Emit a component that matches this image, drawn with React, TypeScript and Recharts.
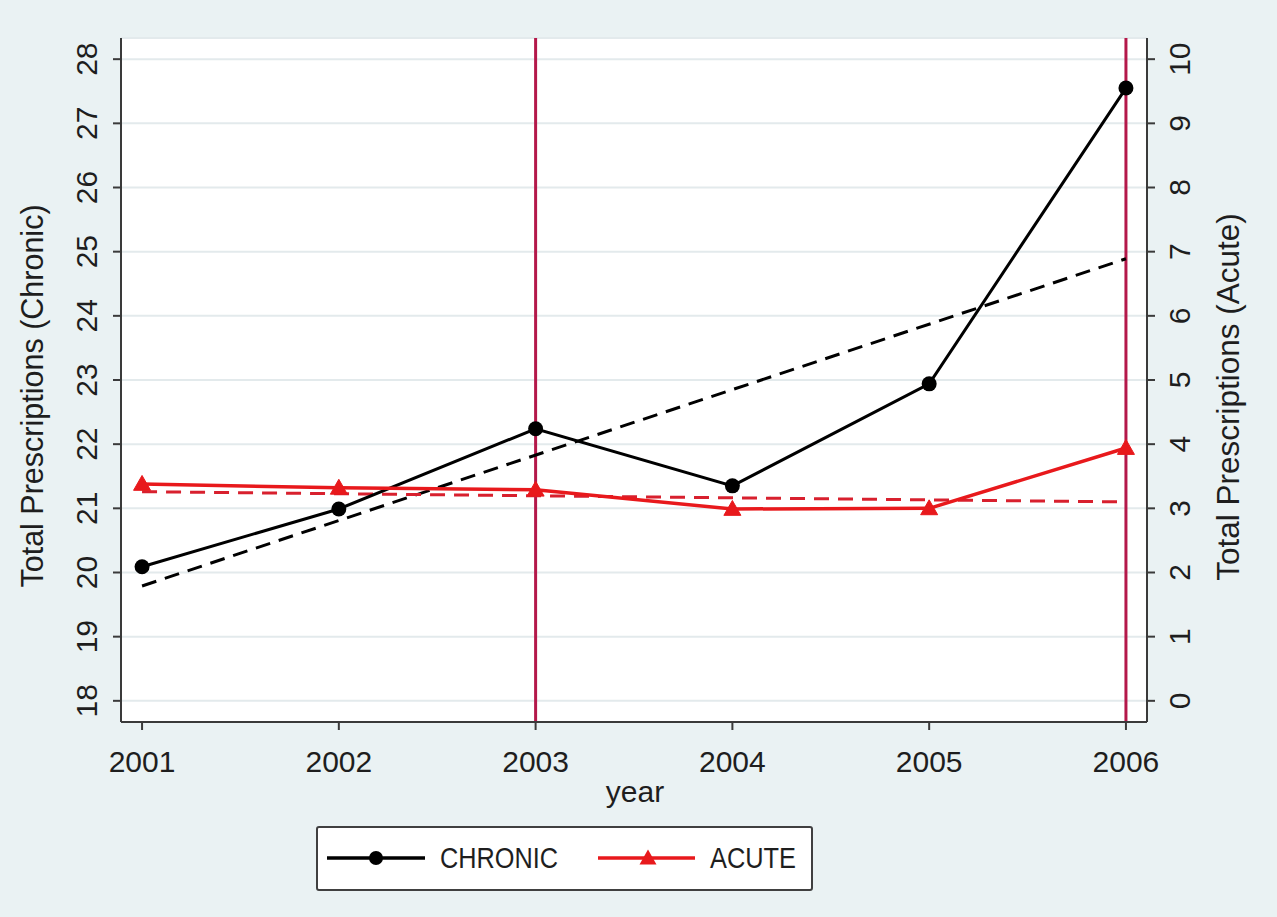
import React from "react";
import {
  ComposedChart,
  Line,
  XAxis,
  YAxis,
  CartesianGrid,
  ReferenceLine,
  Legend,
} from "recharts";

// ---- data ----
const years = [2001, 2002, 2003, 2004, 2005, 2006];
const chronic = [20.09, 20.99, 22.24, 21.35, 22.94, 27.55];
const acute = [3.38, 3.32, 3.29, 2.99, 3.0, 3.94];
const chronicFit: (number | null)[] = [19.79, null, null, null, null, 24.89];
const acuteFit: (number | null)[] = [3.26, null, null, null, null, 3.1];
const leftTicks = [18, 19, 20, 21, 22, 23, 24, 25, 26, 27, 28];
const rightTicks = [0, 1, 2, 3, 4, 5, 6, 7, 8, 9, 10];
const xTicks = [2001, 2002, 2003, 2004, 2005, 2006];
const markerYears = [2003, 2006];
const seriesNames = ["CHRONIC", "ACUTE"];
const leftTitle = "Total Prescriptions (Chronic)";
const rightTitle = "Total Prescriptions (Acute)";
const xTitle = "year";

const data = years.map((y, i) => ({
  year: y,
  chronic: chronic[i],
  acute: acute[i],
  chronicFit: chronicFit[i],
  acuteFit: acuteFit[i],
}));

const FONT = "'Liberation Sans', Arial, Helvetica, sans-serif";
const TEXT = "#1e1e1e";
const AXIS = "#3a3a3a";
const BG = "#eaf2f3";
const RED = "#e8191c";
const RED_DASH = "#d8202e";
const XLINE = "#b4184a";

const Triangle = (props: any) => {
  const { cx, cy } = props;
  if (cx == null || cy == null) return <g />;
  const s = 8.5;
  return (
    <polygon
      points={`${cx},${cy - s} ${cx - s},${cy + s * 0.75} ${cx + s},${cy + s * 0.75}`}
      fill={RED}
      stroke={RED}
      strokeWidth={1}
    />
  );
};

const LeftTick = (props: any) => {
  const { x, y, payload } = props;
  return (
    <text
      transform={`translate(${x - 14},${y}) rotate(-90)`}
      textAnchor="middle"
      fontSize={30}
      fontFamily={FONT}
      fill={TEXT}
    >
      {payload.value}
    </text>
  );
};

const RightTick = (props: any) => {
  const { x, y, payload } = props;
  return (
    <text
      transform={`translate(${x + 33},${y}) rotate(-90)`}
      textAnchor="middle"
      fontSize={30}
      fontFamily={FONT}
      fill={TEXT}
    >
      {payload.value}
    </text>
  );
};

const BottomTick = (props: any) => {
  const { x, y, payload } = props;
  return (
    <text x={x} y={y + 40} textAnchor="middle" fontSize={30} fontFamily={FONT} fill={TEXT}>
      {payload.value}
    </text>
  );
};

const LegendBox = () => (
  <svg width={497} height={65} style={{ display: "block" }}>
    <rect x={1} y={1} width={495} height={63} fill="#fff" stroke="#404040" strokeWidth={2} rx={2} />
    <line x1={11} x2={109} y1={32} y2={32} stroke="#000" strokeWidth={3.5} />
    <circle cx={60} cy={32} r={7} fill="#000" />
    <text x={124} y={42} fontSize={30} fontFamily={FONT} fill={TEXT} textLength={118} lengthAdjust="spacingAndGlyphs">
      {seriesNames[0]}
    </text>
    <line x1={282} x2={379} y1={32} y2={32} stroke={RED} strokeWidth={3.5} />
    <polygon points={`332,${32 - 8.5} ${332 - 8.5},${32 + 6.4} ${332 + 8.5},${32 + 6.4}`} fill={RED} />
    <text x={394} y={42} fontSize={30} fontFamily={FONT} fill={TEXT} textLength={86} lengthAdjust="spacingAndGlyphs">
      {seriesNames[1]}
    </text>
  </svg>
);

export default function App() {
  return (
    <div
      style={{
        position: "absolute",
        left: 0,
        top: 0,
        width: 1277,
        height: 917,
        background: BG,
        fontFamily: FONT,
        overflow: "hidden",
      }}
    >
      <ComposedChart
        width={1277}
        height={917}
        data={data}
        margin={{ top: 38, right: 0, bottom: 0, left: 0 }}
      >
        <CartesianGrid
          yAxisId="left"
          vertical={false}
          stroke="#e3eaec"
          strokeWidth={2}
          fill="#ffffff"
          fillOpacity={1}
        />
        <XAxis
          dataKey="year"
          type="number"
          domain={[2000.893, 2006.107]}
          ticks={xTicks}
          height={195}
          tickSize={8}
          tickMargin={2}
          stroke={AXIS}
          axisLine={{ stroke: AXIS, strokeWidth: 2 }}
          tickLine={{ stroke: AXIS, strokeWidth: 2 }}
          tick={<BottomTick />}
          interval={0}
          label={{
            content: () => (
              <text x={635} y={802} textAnchor="middle" fontSize={30} fontFamily={FONT} fill={TEXT}>
                {xTitle}
              </text>
            ),
          }}
        />
        <YAxis
          yAxisId="left"
          type="number"
          domain={[17.67, 28.33]}
          ticks={leftTicks}
          width={121}
          tickSize={8}
          tickMargin={2}
          axisLine={{ stroke: AXIS, strokeWidth: 2 }}
          tickLine={{ stroke: AXIS, strokeWidth: 2 }}
          tick={<LeftTick />}
          interval={0}
          label={{
            content: () => (
              <text
                transform="translate(43,396) rotate(-90)"
                textAnchor="middle"
                fontSize={30.5}
                fontFamily={FONT}
                fill={TEXT}
              >
                {leftTitle}
              </text>
            ),
          }}
        />
        <YAxis
          yAxisId="right"
          orientation="right"
          type="number"
          domain={[-0.33, 10.33]}
          ticks={rightTicks}
          width={130}
          tickSize={8}
          tickMargin={2}
          axisLine={{ stroke: AXIS, strokeWidth: 2 }}
          tickLine={{ stroke: AXIS, strokeWidth: 2 }}
          tick={<RightTick />}
          interval={0}
          label={{
            content: () => (
              <text
                transform="translate(1239,397) rotate(-90)"
                textAnchor="middle"
                fontSize={31.5}
                fontFamily={FONT}
                fill={TEXT}
              >
                {rightTitle}
              </text>
            ),
          }}
        />
        {markerYears.map((yr) => (
          <ReferenceLine key={yr} x={yr} yAxisId="left" stroke={XLINE} strokeWidth={3} />
        ))}
        <Line
          yAxisId="left"
          dataKey="chronicFit"
          stroke="#000"
          strokeWidth={3}
          strokeDasharray="15 9"
          dot={false}
          connectNulls
          isAnimationActive={false}
        />
        <Line
          yAxisId="right"
          dataKey="acuteFit"
          stroke={RED_DASH}
          strokeWidth={3}
          strokeDasharray="15 9"
          dot={false}
          connectNulls
          isAnimationActive={false}
        />
        <Line
          yAxisId="left"
          dataKey="chronic"
          stroke="#000"
          strokeWidth={3}
          dot={{ r: 7.5, fill: "#000", stroke: "#000", strokeWidth: 0 }}
          activeDot={false}
          isAnimationActive={false}
        />
        <Line
          yAxisId="right"
          dataKey="acute"
          stroke={RED}
          strokeWidth={3.5}
          dot={<Triangle />}
          activeDot={false}
          isAnimationActive={false}
        />
        <Legend
          layout="horizontal"
          verticalAlign="middle"
          align="center"
          content={() => <LegendBox />}
          wrapperStyle={{ position: "absolute", left: 316, top: 826, width: 497, height: 65 }}
        />
      </ComposedChart>
    </div>
  );
}
